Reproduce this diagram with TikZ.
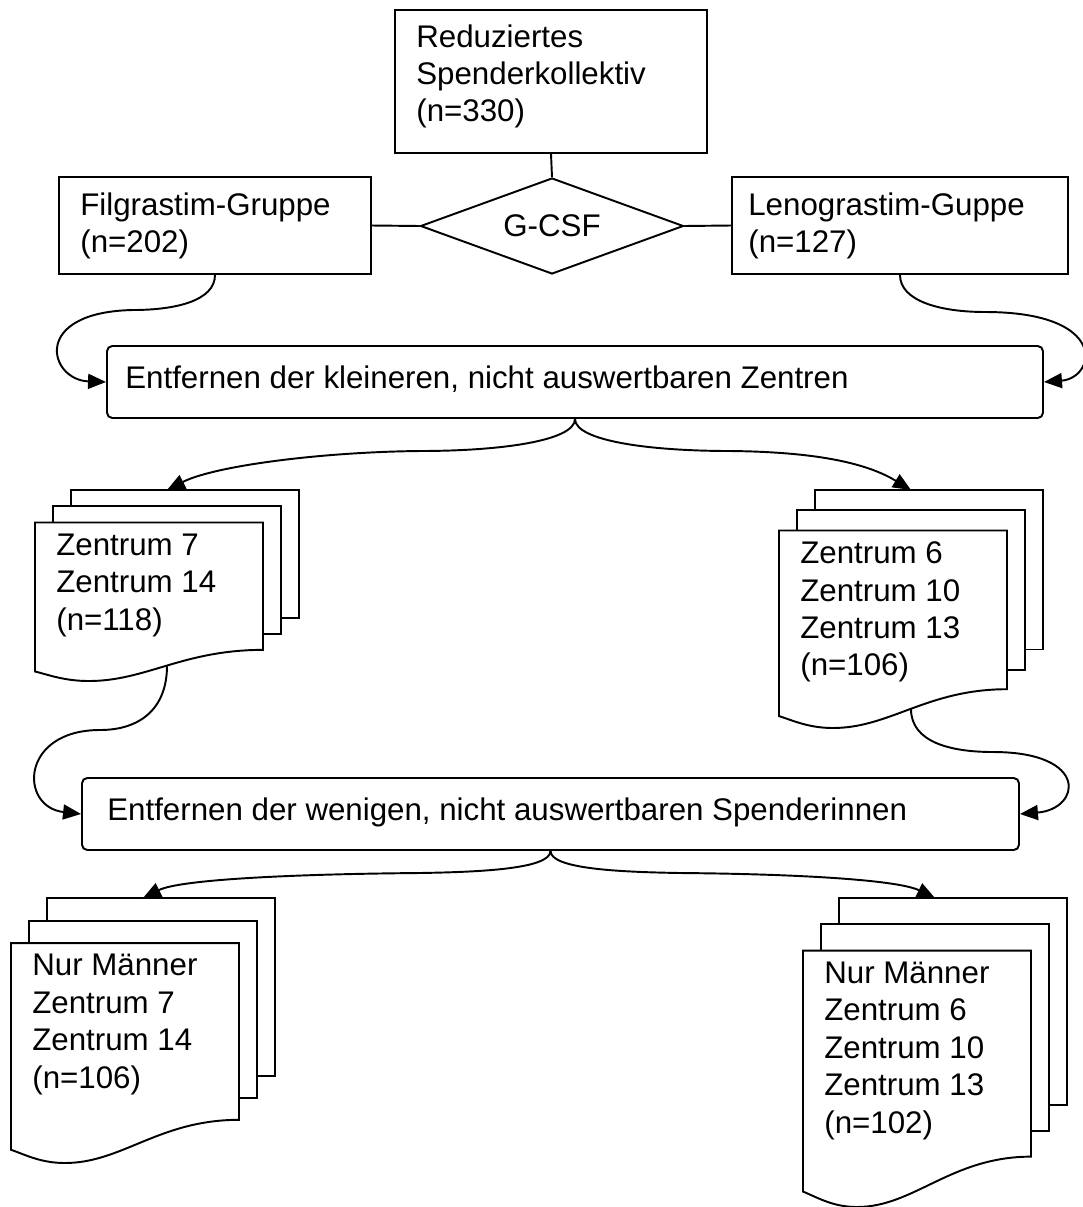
\documentclass[tikz,border=0pt]{standalone}
\usepackage{fontspec}
\setmainfont{Liberation Sans}
\usetikzlibrary{arrows.meta,shapes.geometric,fit}
\tikzset{
line/.style={line width=1.1pt},
arr/.style={line width=1.1pt, -{Triangle[length=0.36cm,width=0.3cm]}},
box/.style={draw, line width=1.1pt, inner sep=0pt},
roundbox/.style={box, rounded corners=3pt},
gate/.style={draw, line width=1.1pt, diamond, aspect=2.74, inner sep=0pt, minimum width=5.26cm, minimum height=1.92cm, font=\fontsize{17.8}{21.3}\selectfont},
txt/.style={inner sep=0pt, align=left, anchor=north west, font=\fontsize{17.8}{21.3}\selectfont, execute at begin node=\strut},
sheet/.style={draw, fill=white, line width=1.1pt},
pics/docstack/.style 2 args={code={
  \draw[sheet] (36,0) rectangle (264,{0.67*#1});
  \draw[sheet] (18,{0.085*#1}) rectangle (246,{0.755*#1});
  \draw[sheet] (0,{0.17*#1}) -- (228,{0.17*#1}) -- (228,{0.837*#1})
    .. controls (148,{0.837*#1}) and (111,{#1}) .. (54,{#1})
    .. controls (30,{#1}) and (15,{0.97*#1}) .. (0,{0.95*#1}) -- cycle;
  \node[txt] (-txt) at (21,{0.17*#1+11}) {#2};
  \coordinate (-in) at (132,0);
  \coordinate (-out) at (132,{0.92*#1});
  }}
}

\begin{document}
\begin{tikzpicture}[x=0.02cm, y=-0.02cm]
\useasboundingbox (0,0) rectangle (1082,1207);
\node[box, fit={(395,10) (707,153)}] (top) {};
\node[txt] (toptxt) at (416,24) {Reduziertes\\Spenderkollektiv\\(n=330)};
\node[gate] (csf) at (552,226) {G-CSF};
\node[box, fit={(59,177) (371,274)}] (fil) {};
\node[txt] (filtxt) at (80,192) {Filgrastim-Gruppe\\(n=202)};
\node[box, fit={(732,177) (1068,274)}] (len) {};
\node[txt] (lentxt) at (748,192) {Lenograstim-Guppe\\(n=127)};
\node[roundbox, fit={(107,346) (1043,418)}] (ent1) {};
\node[txt] (ent1txt) at (125,362) {Entfernen der kleineren, nicht auswertbaren Zentren};
\node[roundbox, fit={(82,778) (1019,850)}] (ent2) {};
\node[txt] (ent2txt) at (107,794) {Entfernen der wenigen, nicht auswertbaren Spenderinnen};

\pic (d1) at (35,490) {docstack={191}{Zentrum 7\\Zentrum 14\\(n=118)}};
\pic (d2) at (779,490) {docstack={238}{Zentrum 6\\Zentrum 10\\Zentrum 13\\(n=106)}};
\pic (d3) at (11,898) {docstack={265}{Nur Männer\\Zentrum 7\\Zentrum 14\\(n=106)}};
\pic (d4) at (803,898) {docstack={309}{Nur Männer\\Zentrum 6\\Zentrum 10\\Zentrum 13\\(n=102)}};

\draw[line] (top.south) -- (csf.north);
\draw[line] (fil.east) -- (csf.west);
\draw[line] (csf.east) -- (len.west);
\draw[arr] (fil.south) .. controls +(0,26) and +(42,0) .. (133,310) .. controls +(-103,2) and +(-57,-2) .. (ent1.west);
\draw[arr] (len.south) .. controls +(0,26) and +(-45,0) .. (985,312) .. controls +(125,0) and +(52,-4) .. (ent1.east);
\draw[arr] (ent1.south) .. controls +(0,22) and +(80,0) .. (420,451) .. controls +(-100,1) and +(47,-24) .. (d1-in);
\draw[arr] (ent1.south) .. controls +(0,22) and +(-80,0) .. (730,451) .. controls +(100,1) and +(-38,-23) .. (d2-in);
\draw[arr] (d1-out) .. controls +(0,43) and +(40,0) .. (100,730) .. controls +(-80,0) and +(-62,-7) .. (ent2.west);
\draw[arr] (d2-out) .. controls +(0,33) and +(-43,0) .. (993,752) .. controls +(97,0) and +(61,-5) .. (ent2.east);
\draw[arr] (ent2.south) .. controls +(0,18) and +(60,-1) .. (420,873) .. controls +(-120,1) and +(38,-19) .. (d3-in);
\draw[arr] (ent2.south) .. controls +(0,18) and +(-60,-1) .. (680,873) .. controls +(120,1) and +(-37,-18) .. (d4-in);
\end{tikzpicture}
\end{document}
